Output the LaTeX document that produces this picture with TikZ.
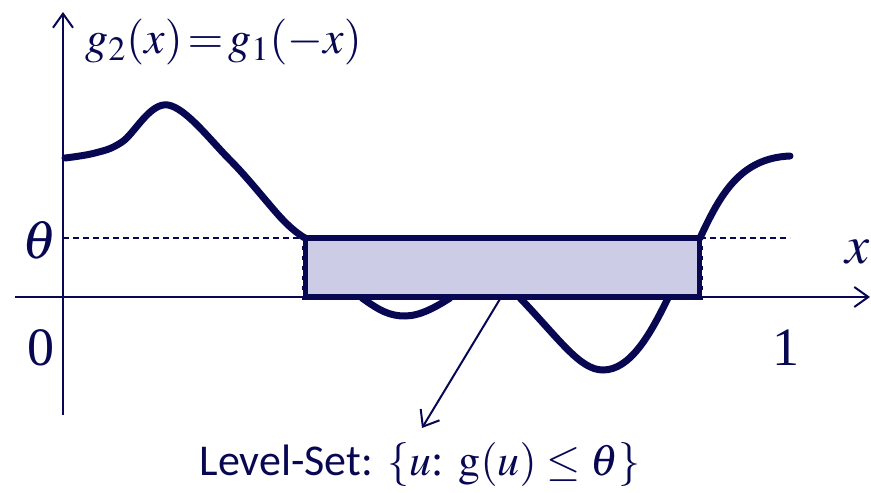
\documentclass[tikz,border=0pt]{standalone}
\usepackage{mathptmx}
\usepackage[no-math]{fontspec}
\setmainfont{Liberation Serif}
\newfontfamily\calib{Carlito}
\usetikzlibrary{arrows.meta}
\definecolor{navy}{RGB}{8,8,82}
\definecolor{lav}{RGB}{204,204,230}

\begin{document}
\begin{tikzpicture}[x=0.5pt,y=-0.5pt, every node/.style={text=navy},
  axis/.style={navy, line width=1pt, -{Straight Barb[length=7pt,width=10pt]}},
  curve/.style={navy, line width=3.5pt, line cap=round},
  lvl/.style={navy, dash pattern=on 3pt off 2pt, line width=0.8pt}]
  \useasboundingbox (0,0) rectangle (871,492);
  % axes
  \coordinate (ybot) at (63,415);
  \coordinate (ytop) at (63,12);
  \coordinate (xl) at (15,297);
  \coordinate (xr) at (870,297);
  \draw[axis] (ybot) -- (ytop);
  \draw[axis] (xl) -- (xr);
  \draw[lvl] (63,238) -- (305,238);
  \draw[lvl] (700,238) -- (790,238);
  % level set box
  \draw[navy, line width=3pt, fill=lav] (305,238) rectangle (700,297);
  \foreach \x in {302,703}
    \draw[white, dash pattern=on 3pt off 2pt, line width=0.6pt] (\x,240) -- (\x,297);
  % function
  \draw[curve] plot[smooth, tension=0.6] coordinates {(65,158) (95,153) (122,142) (168,105) (230,160) (283,220) (305,238)};
  \draw[curve] (362,298) .. controls (380,311) and (390,316) .. (405,316) .. controls (420,316) and (436,307) .. (450,298);
  \draw[curve] (520,298) .. controls (560,340) and (580,370) .. (603,370) .. controls (630,370) and (650,335) .. (668,298);
  \draw[curve] (700,238) .. controls (720,195) and (740,158) .. (790,156);
  % labels
  \node[anchor=west, inner sep=0pt, font=\fontsize{23}{27}\selectfont] (glab) at (85,42)
    {$g_2(x)\,{=}\,g_1(-x)$};
  \node[font=\fontsize{27}{30}\selectfont] (th) at (40,240) {$\theta$};
  \node[font=\fontsize{27}{30}\selectfont] (zero) at (41,348) {0};
  \node[font=\fontsize{27}{30}\selectfont] (one) at (786,348) {1};
  \node[font=\fontsize{27}{30}\selectfont] (xlab) at (858,252) {$x$};
  \node[font=\fontsize{22}{26}\selectfont] (lset) at (420,464)
    {{\calib Level-Set:} $\{u$: $\mathrm{g}(u) \le \theta\}$};
  \coordinate (tail) at (500,299);
  \coordinate (tip) at (422,428);
  \draw[navy, line width=1pt, -{Straight Barb[length=7pt,width=11pt]}] (tail) -- (tip);
\end{tikzpicture}
\end{document}
